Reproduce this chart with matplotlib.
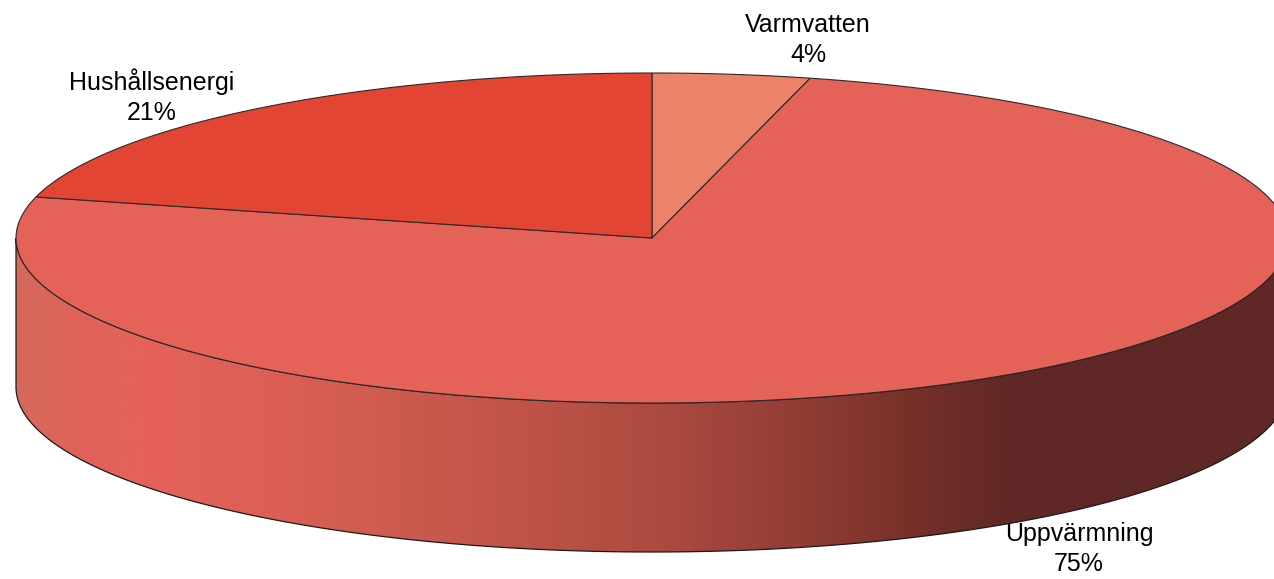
import numpy as np
import matplotlib
matplotlib.use('Agg')
import matplotlib.pyplot as plt
from matplotlib.colors import LinearSegmentedColormap
from matplotlib.patches import PathPatch
from matplotlib.path import Path

plt.rcParams['font.family'] = ['Liberation Sans', 'DejaVu Sans']

# Slices, clockwise from 12 o'clock
labels = ['Varmvatten', 'Uppvärmning', 'Hushållsenergi']
values = [4, 75, 21]
colors = ['#ec8267', '#e56258', '#e34535']
label_pos = [(808, 40), (1079, 549), (152, 97)]

# Side wall shading, left to right
side_x = [0.0, 0.05, 0.1, 0.2, 0.3, 0.4, 0.5, 0.6, 0.7, 0.79, 1.0]
side_colors = ['#d6695c', '#e0625a', '#e5625a', '#dc5f56', '#cd5a4e', '#bf5348',
               '#ad4b40', '#963f38', '#783129', '#5f2725', '#5f2725']

cx, cy = 652, 238
rx, ry = 636, 165
depth = 149


def rim(a0, a1, n=200):
    # angles in degrees clockwise from the top
    t = np.radians(np.linspace(a0, a1, n))
    return cx + rx * np.sin(t), cy - ry * np.cos(t)


fig = plt.figure(figsize=(12.74, 5.79), dpi=100)
ax = fig.add_axes([0, 0, 1, 1])

# side wall
x_top, y_top = rim(90, 270)
side_verts = np.vstack([np.column_stack([x_top, y_top]),
                        np.column_stack([x_top[::-1], y_top[::-1] + depth])])
side_path = Path(np.vstack([side_verts, side_verts[0]]), closed=True)
cmap = LinearSegmentedColormap.from_list('side', list(zip(side_x, side_colors)))
im = ax.imshow(np.linspace(0, 1, 512).reshape(1, -1), cmap=cmap, aspect='auto',
               extent=[cx - rx, cx + rx, 579, 0], zorder=2)
im.set_clip_path(PathPatch(side_path, transform=ax.transData))
ax.add_patch(PathPatch(side_path, facecolor='none', edgecolor='#1a1a1a', lw=0.9, zorder=3))

# top slices
start = 0
for value, color in zip(values, colors):
    end = start + value * 3.6
    xs, ys = rim(start, end)
    ax.fill(np.r_[cx, xs], np.r_[cy, ys], facecolor=color, edgecolor='#2a2a2a', lw=0.8, zorder=4)
    start = end

for label, value, (lx, ly) in zip(labels, values, label_pos):
    ax.text(lx, ly, f'{label}\n{value}%', ha='center', va='center', fontsize=18,
            color='black', linespacing=1.3, zorder=5)

ax.set_xlim(0, 1274)
ax.set_ylim(579, 0)
ax.axis('off')

plt.savefig('out.png', dpi=100)
